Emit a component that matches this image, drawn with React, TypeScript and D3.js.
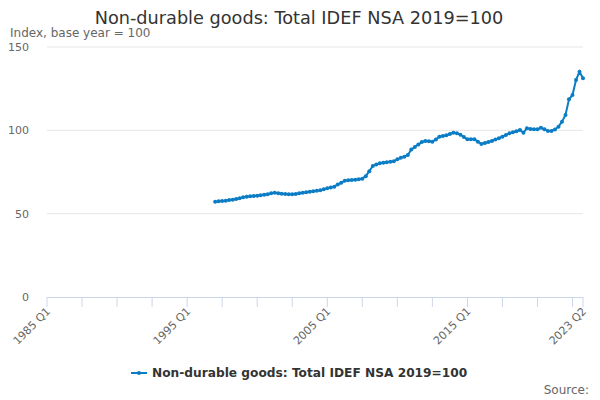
import React from 'react'
import * as d3 from 'd3'

const startIndex = 48 // quarters after 1985 Q1 -> 1997 Q1
const values: number[] = [
  57.2, 57.4, 57.6, 57.8,
  58.2, 58.4, 58.8, 59.3,
  59.8, 60.2, 60.4, 60.6,
  60.8, 61.0, 61.3, 61.6,
  62.2, 62.6, 62.3, 62.0,
  61.8, 61.7, 61.6, 61.8,
  62.2, 62.5, 62.8, 63.2,
  63.5, 63.8, 64.0, 64.6,
  65.2, 65.7, 66.2, 67.5,
  68.5, 69.8, 70.0, 70.2,
  70.4, 70.6, 71.0, 72.5,
  75.5, 78.6, 79.5, 80.2,
  80.6, 80.9, 81.2, 81.4,
  82.6, 83.5, 84.2, 85.2,
  88.5, 90.0, 91.5, 93.0,
  93.6, 93.4, 93.2, 94.5,
  96.2, 96.6, 97.0, 97.8,
  98.6, 98.2, 97.4, 96.0,
  94.6, 94.6, 94.6, 93.2,
  91.8, 92.4, 93.0, 93.6,
  94.5, 95.3, 96.2, 97.2,
  98.2, 98.8, 99.4, 100.2,
  98.6, 101.2, 100.8, 100.6,
  100.6, 101.6, 100.6, 99.6,
  99.6, 100.5, 102.2, 105.2,
  109.2, 118.6, 121.2, 130.2,
  135.2, 131.2,
]
const labelTicks = [0, 40, 80, 120, 153]
const minorTicks = d3.range(0, 154, 10)
const yTicks = [0, 50, 100, 150]

const qLabel = (i: number) => `${1985 + Math.floor(i / 4)} Q${(i % 4) + 1}`

const font = '"DejaVu Sans", Verdana, sans-serif'
const blue = '#0a7dc6'

export default function App() {
  const x = d3.scaleLinear().domain([0, 153]).range([47, 583])
  const y = d3.scaleLinear().domain([0, 150]).range([297, 47])
  const pts = values.map((v, i) => [x(startIndex + i), y(v)] as [number, number])
  const line = d3.line()(pts) || ''

  return (
    <svg width={600} height={400} style={{ position: 'absolute', left: 0, top: 0, fontFamily: font }}>
      <rect width={600} height={400} fill="#fff" />
      <text x={299} y={24} textAnchor="middle" fontSize={17.7} fill="#333">
        Non-durable goods: Total IDEF NSA 2019=100
      </text>
      <text x={10} y={37} fontSize={12} fill="#666">Index, base year = 100</text>
      {yTicks.map(t => (
        <g key={t}>
          {t > 0 && <line x1={47} x2={583} y1={y(t)} y2={y(t)} stroke="#e6e6e6" />}
          <text x={29} y={y(t) + 4} textAnchor="end" fontSize={11} fill="#666">{t}</text>
        </g>
      ))}
      <line x1={47} x2={583} y1={297.5} y2={297.5} stroke="#ccd6eb" />
      {minorTicks.concat([153]).map(t => (
        <line key={t} x1={x(t)} x2={x(t)} y1={297} y2={307} stroke="#ccd6eb" />
      ))}
      {labelTicks.map(t => (
        <text key={t} transform={`translate(${x(t) + 4},${312}) rotate(-45)`} textAnchor="end" fontSize={11} fill="#666">
          {qLabel(t)}
        </text>
      ))}
      <path d={line} fill="none" stroke={blue} strokeWidth={2} />
      {pts.map((p, i) => (
        <circle key={i} cx={p[0]} cy={p[1]} r={2} fill={blue} />
      ))}
      <line x1={131} x2={147} y1={373} y2={373} stroke={blue} strokeWidth={2} />
      <circle cx={139} cy={373} r={2} fill={blue} />
      <text x={152} y={377} fontSize={12.2} fontWeight="bold" fill="#333">
        Non-durable goods: Total IDEF NSA 2019=100
      </text>
      <text x={589} y={394} textAnchor="end" fontSize={12} fill="#666">Source:</text>
    </svg>
  )
}
